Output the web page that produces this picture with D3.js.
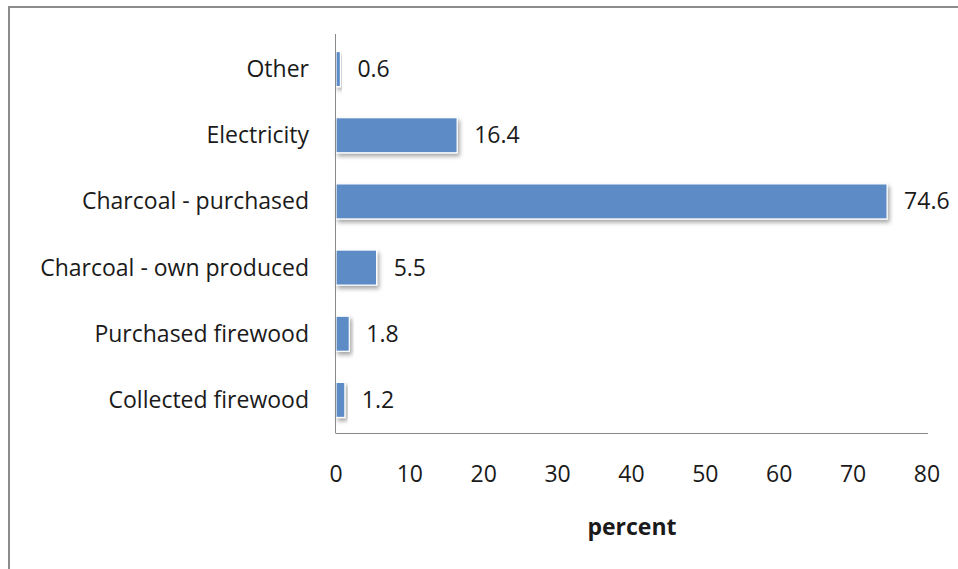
<!DOCTYPE html>
<html><head><meta charset="utf-8">
<script src="https://cdn.jsdelivr.net/npm/d3@7"></script>
<style>body{margin:0;background:#fff;}svg{display:block;}</style>
</head><body>
<script>
const categories = ["Other","Electricity","Charcoal - purchased","Charcoal - own produced","Purchased firewood","Collected firewood"];
const values = [0.6,16.4,74.6,5.5,1.8,1.2];
const valueLabels = ["0.6","16.4","74.6","5.5","1.8","1.2"];
const xTicks = [0,10,20,30,40,50,60,70,80];
const axisTitle = "percent";

(function(){
const W=958,H=569;
const svg=d3.select("body").append("svg").attr("width",W).attr("height",H);
const defs=svg.append("defs");
const f=defs.append("filter").attr("id","sh").attr("x","-20%").attr("y","-20%").attr("width","150%").attr("height","160%");
f.append("feDropShadow").attr("dx",2).attr("dy",3).attr("stdDeviation",2).attr("flood-color","#000").attr("flood-opacity",0.35);

// outer frame
svg.append("rect").attr("x",9).attr("y",7).attr("width",W+20).attr("height",H+20)
  .attr("fill","none").attr("stroke","#8c8c8c").attr("stroke-width",2);

const mLeft=336, mRight=927, mTop=36, mBottom=433;
const x=d3.scaleLinear().domain([0,80]).range([mLeft,mRight]);
const y=d3.scaleBand().domain(categories).range([mTop,mBottom]).paddingInner(0.47).paddingOuter(0.235);
const font="'Open Sans', sans-serif";
const fs=23;

svg.append("g").selectAll("rect").data(values).join("rect")
  .attr("x",x(0)).attr("y",(d,i)=>y(categories[i]))
  .attr("width",d=>x(d)-x(0)).attr("height",y.bandwidth())
  .attr("fill","#5b8bc6").attr("stroke","#ffffff").attr("stroke-width",1.2)
  .attr("filter","url(#sh)");

// axes lines
svg.append("line").attr("x1",mLeft-0.5).attr("x2",mLeft-0.5).attr("y1",mTop-2).attr("y2",mBottom)
  .attr("stroke","#8a8a8a").attr("stroke-width",1);
svg.append("line").attr("x1",mLeft-0.5).attr("x2",mRight+1).attr("y1",mBottom+0.5).attr("y2",mBottom+0.5)
  .attr("stroke","#8a8a8a").attr("stroke-width",1);

// category labels
svg.append("g").selectAll("text").data(categories).join("text")
  .attr("x",309).attr("y",d=>y(d)+y.bandwidth()/2).attr("dy","0.35em")
  .attr("text-anchor","end").attr("font-family",font).attr("font-size",fs).attr("fill","#1a1a1a")
  .text(d=>d);

// value labels
svg.append("g").selectAll("text").data(values).join("text")
  .attr("x",d=>x(d)+17).attr("y",(d,i)=>y(categories[i])+y.bandwidth()/2).attr("dy","0.35em")
  .attr("font-family",font).attr("font-size",fs).attr("fill","#1a1a1a")
  .text((d,i)=>valueLabels[i]);

// x tick labels
svg.append("g").selectAll("text").data(xTicks).join("text")
  .attr("x",d=>x(d)).attr("y",474).attr("dy","0.35em").attr("text-anchor","middle")
  .attr("font-family",font).attr("font-size",fs).attr("fill","#1a1a1a")
  .text(d=>d);

svg.append("text").attr("x",632).attr("y",527).attr("dy","0.35em").attr("text-anchor","middle")
  .attr("font-family",font).attr("font-size",fs).attr("font-weight","bold").attr("fill","#1a1a1a")
  .text(axisTitle);
})();
</script>
</body></html>
